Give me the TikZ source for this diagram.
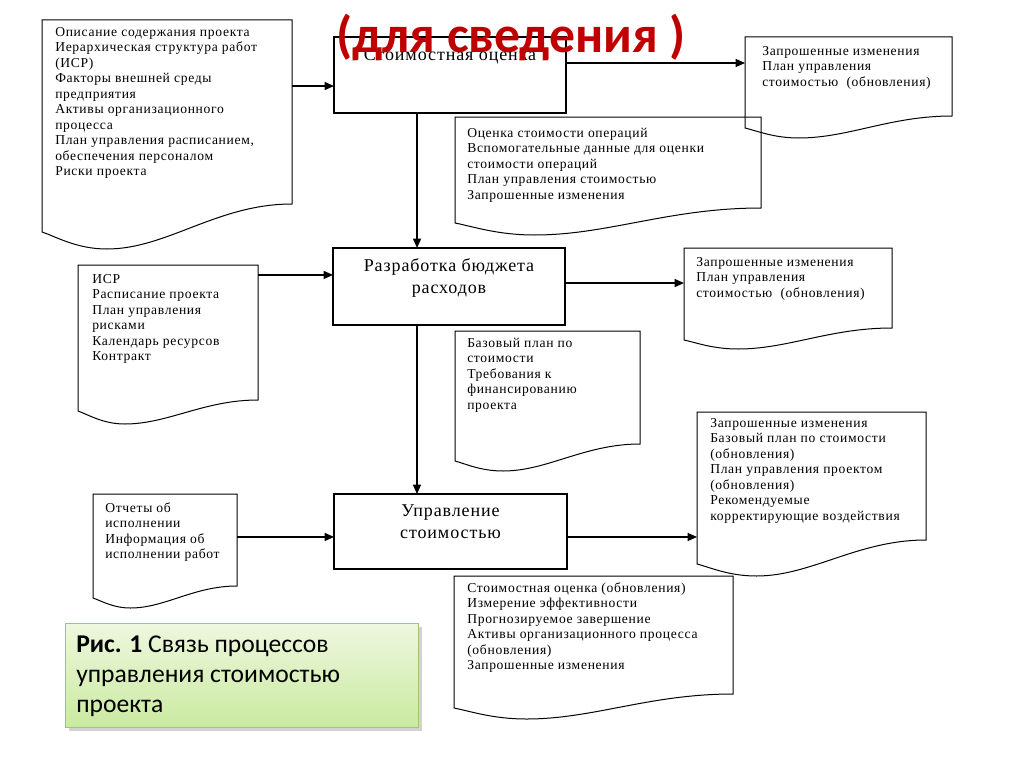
\documentclass[tikz,border=0pt]{standalone}
\usepackage{fontspec}
\setmainfont{Liberation Serif}
\newfontfamily\dfont{Liberation Serif}[LetterSpace=5]
\newfontfamily\capfont{Carlito}
\usetikzlibrary{arrows.meta,shadows,calc}
\definecolor{titlered}{RGB}{192,0,0}
\definecolor{capTop}{RGB}{238,247,222}
\definecolor{capBot}{RGB}{202,234,160}
\definecolor{capBorder}{RGB}{160,196,120}
\tikzset{
  docline/.style={draw=black, line width=0.75pt, line join=miter},
  docbox/.style={inner sep=0pt, outer sep=0pt, anchor=north west},
  procbox/.style={draw=black, line width=0.9pt, inner sep=0pt, outer sep=0pt},
  doctext/.style={inner sep=0pt, anchor=north west, align=left, font=\dfont\fontsize{10.2}{11.6}\selectfont},
  proctext/.style={inner sep=0pt, anchor=north, align=center, font=\dfont\fontsize{13.5}{16.5}\selectfont},
  arr/.style={draw=black, line width=0.9pt, -{Triangle[length=7pt,width=6pt]}},
}
\newcommand{\fs}{\rule{0pt}{10pt}}
\newcommand{\ps}{\rule{0pt}{14pt}}
\newcommand{\docshape}[7]{%
  \node[docbox, minimum width={(#4-#2)*0.75pt}, minimum height={(#5-#3)*0.75pt}] (#1) at (#2,#3) {};
  \draw[docline] (#2,#5) -- (#2,#3) -- (#4,#3) -- (#4,#6)
    .. controls ({#4-0.3*(#4-#2)},#6) and ({#2+0.5*(#4-#2)},#7) .. ({#2+0.26*(#4-#2)},#7)
    .. controls ({#2+0.14*(#4-#2)},#7) and ({#2+0.06*(#4-#2)},{#5+0.3*(#7-#5)}) .. (#2,#5) -- cycle;
}
\begin{document}
\begin{tikzpicture}[x=0.75pt,y=-0.75pt]
\fill[white] (0,0) rectangle (1024,767);
\useasboundingbox (0,0) rectangle (1024,767);

% document shapes
\docshape{d1}{42}{20}{292}{232}{204}{249}
\docshape{d2}{745}{37}{952}{128}{116}{138}
\docshape{d3}{455}{117}{761}{223}{208}{235}
\docshape{d4}{78}{265}{258}{411}{400}{424}
\docshape{d5}{684}{248}{892}{340}{328}{349}
\docshape{d6}{455}{331}{640}{461}{444}{471}
\docshape{d7}{93}{494}{237}{598}{586}{608}
\docshape{d8}{697}{412}{926}{564}{540}{576}
\docshape{d9}{454}{576}{733}{708}{694}{719}

% document texts
\node[doctext] (d1t) at (55,22.7) {\fs Описание содержания проекта\\Иерархическая структура работ\\(ИСР)\\Факторы внешней среды\\предприятия\\Активы организационного\\процесса\\План управления расписанием,\\обеспечения персоналом\\Риски проекта};
\node[doctext] (d2t) at (762,41.7) {\fs Запрошенные изменения\\План управления\\стоимостью\ \ (обновления)};
\node[doctext] (d3t) at (467,123.7) {\fs Оценка стоимости операций\\Вспомогательные данные для оценки\\стоимости операций\\План управления стоимостью\\Запрошенные изменения};
\node[doctext] (d4t) at (92,269.7) {\fs ИСР\\Расписание проекта\\План управления\\рисками\\Календарь ресурсов\\Контракт};
\node[doctext] (d5t) at (696,252.7) {\fs Запрошенные изменения\\План управления\\стоимостью\ \ (обновления)};
\node[doctext] (d6t) at (467,333.7) {\fs Базовый план по\\стоимости\\Требования к\\финансированию\\проекта};
\node[doctext] (d7t) at (105,498.7) {\fs Отчеты об\\исполнении\\Информация об\\исполнении работ};
\node[doctext] (d8t) at (710,413.7) {\fs Запрошенные изменения\\Базовый план по стоимости\\(обновления)\\План управления проектом\\(обновления)\\Рекомендуемые\\корректирующие воздействия};
\node[doctext] (d9t) at (467,578.7) {\fs Стоимостная оценка (обновления)\\Измерение эффективности\\Прогнозируемое завершение\\Активы организационного процесса\\(обновления)\\Запрошенные изменения};

% process boxes
\node[procbox, minimum width=174pt, minimum height=57pt] (b1) at (450,75) {};
\node[procbox, minimum width=174pt, minimum height=57.75pt] (b2) at (449,286.5) {};
\node[procbox, minimum width=174.75pt, minimum height=56.25pt] (b3) at (450.5,531.5) {};
\node[proctext] (b1t) at (450,41.3) {\ps Стоимостная оценка};
\node[proctext] (b2t) at (449,252.3) {\ps Разработка бюджета\\расходов};
\node[proctext] (b3t) at (450.5,497.3) {\ps Управление\\стоимостью};

% connectors
\coordinate (p1) at ($(b1.north west)!0.645!(b1.south west)$);
\draw[arr] (d1.east |- p1) -- (p1);
\coordinate (p2) at ($(b1.north east)!0.342!(b1.south east)$);
\draw[arr] (p2) -- (d2.west |- p2);
\coordinate (p3) at ($(b1.south west)!0.358!(b1.south east)$);
\draw[arr] (p3) -- (p3 |- b2.north);
\coordinate (p4) at ($(b2.north west)!0.35!(b2.south west)$);
\draw[arr] (d4.east |- p4) -- (p4);
\coordinate (p5) at ($(b2.north east)!0.455!(b2.south east)$);
\draw[arr] (p5) -- (d5.west |- p5);
\coordinate (p6) at ($(b2.south west)!0.362!(b2.south east)$);
\draw[arr] (p6) -- (p6 |- b3.north);
\coordinate (p7) at ($(b3.north west)!0.573!(b3.south west)$);
\draw[arr] (d7.east |- p7) -- (p7);
\coordinate (p8) at ($(b3.north east)!0.573!(b3.south east)$);
\draw[arr] (p8) -- (d8.west |- p8);

% caption
\node[draw=capBorder, line width=0.6pt, top color=capTop, bottom color=capBot,
  drop shadow={shadow xshift=2.5pt, shadow yshift=-2.5pt, opacity=0.35},
  minimum width={(418-65)*0.75pt}, minimum height={(727-623)*0.75pt},
  anchor=north west, inner sep=0pt] (cap) at (65,623) {};
\node[anchor=north west, inner sep=0pt, align=left, font=\capfont\fontsize{19.2}{22.5}\selectfont] (capt) at (76,625.3) {\rule{0pt}{20pt}\textbf{Рис. 1} Связь процессов\\управления стоимостью\\проекта};

% title
\node[anchor=base west, inner sep=0pt, text=titlered, font=\capfont\bfseries\fontsize{38.8}{40}\selectfont] (title) at (336,53) {(для сведения )};
\end{tikzpicture}
\end{document}
